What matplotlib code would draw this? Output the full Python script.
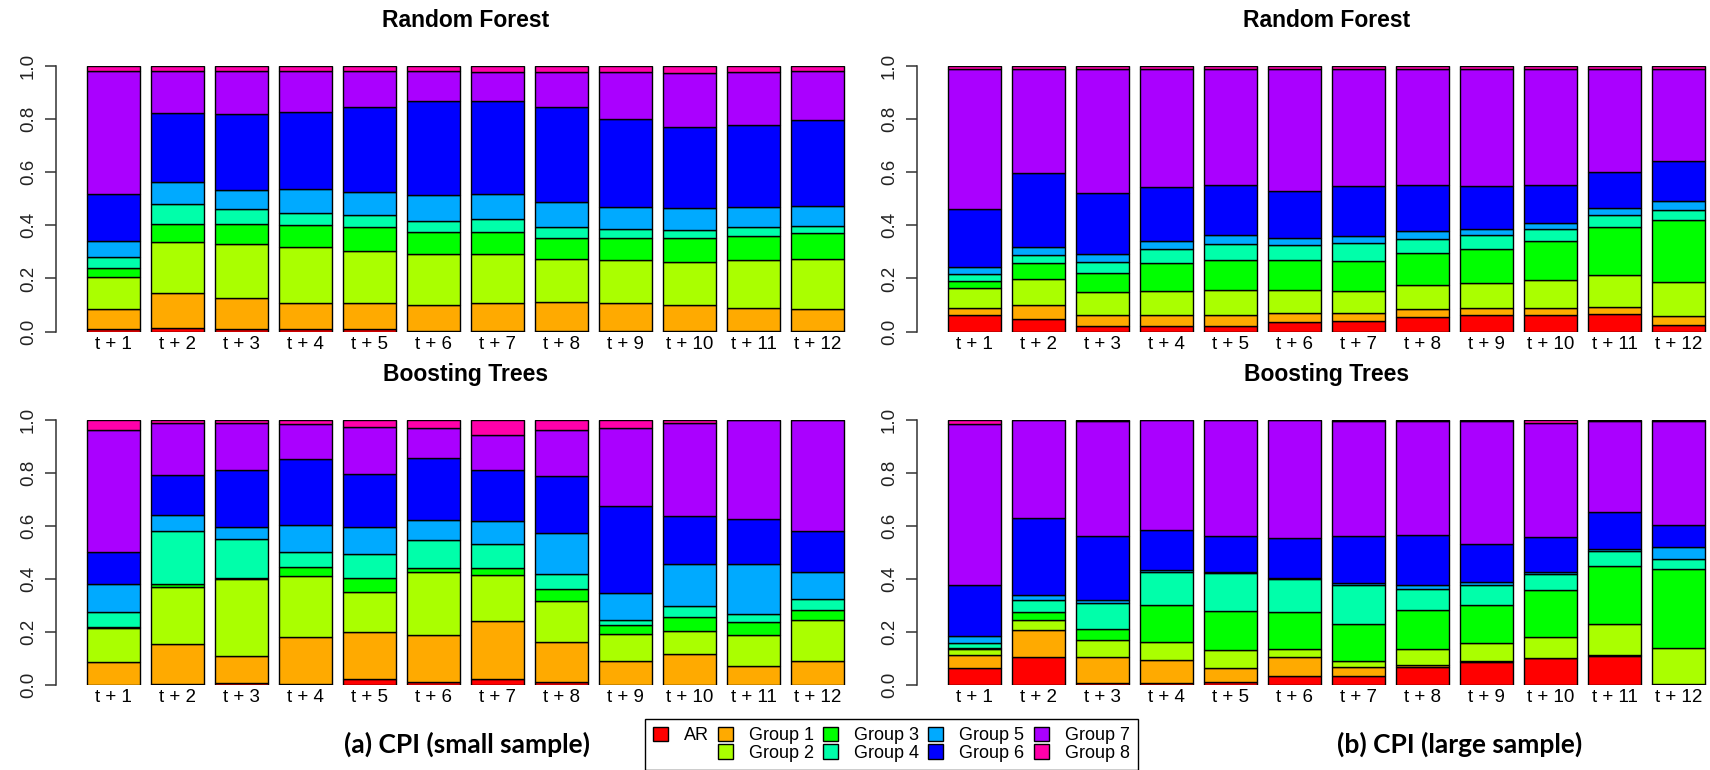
import matplotlib.pyplot as plt
from matplotlib.patches import Patch
import numpy as np

plt.rcParams['font.family'] = ['Liberation Sans Narrow', 'Liberation Sans', 'DejaVu Sans']

horizons = ['t + 1', 't + 2', 't + 3', 't + 4', 't + 5', 't + 6',
            't + 7', 't + 8', 't + 9', 't + 10', 't + 11', 't + 12']
groups = ['AR', 'Group 1', 'Group 2', 'Group 3', 'Group 4',
          'Group 5', 'Group 6', 'Group 7', 'Group 8']
colors = ['#FF0000', '#FFAA00', '#AAFF00', '#00FF00', '#00FFAA',
          '#00AAFF', '#0000FF', '#AA00FF', '#FF00AA']

# share of each group per horizon (rows: t+1..t+12, cols: AR, Group 1..8)
rf_small = [
    [.009, .076, .122, .031, .044, .060, .177, .460, .021],
    [.015, .129, .193, .069, .073, .084, .260, .156, .021],
    [.009, .118, .201, .077, .055, .071, .286, .162, .021],
    [.009, .099, .212, .082, .044, .092, .288, .153, .021],
    [.009, .099, .194, .090, .045, .089, .319, .134, .021],
    [.003, .096, .193, .081, .044, .098, .352, .112, .021],
    [.002, .105, .185, .083, .049, .094, .349, .108, .025],
    [.002, .110, .162, .078, .043, .091, .359, .130, .025],
    [.002, .105, .162, .083, .034, .084, .330, .175, .025],
    [.002, .100, .160, .090, .030, .082, .304, .203, .029],
    [.002, .088, .179, .091, .032, .078, .307, .198, .025],
    [.002, .084, .188, .096, .027, .077, .320, .187, .019],
]

rf_large = [
    [.063, .027, .073, .027, .027, .027, .216, .527, .013],
    [.049, .050, .100, .058, .031, .032, .275, .392, .013],
    [.021, .040, .087, .071, .042, .030, .232, .464, .013],
    [.021, .040, .092, .104, .054, .031, .201, .444, .013],
    [.021, .040, .097, .111, .061, .032, .188, .437, .013],
    [.035, .036, .087, .111, .056, .027, .176, .459, .013],
    [.039, .032, .082, .113, .067, .028, .185, .441, .013],
    [.056, .029, .092, .120, .051, .032, .171, .436, .013],
    [.061, .028, .095, .127, .054, .022, .159, .441, .013],
    [.061, .028, .105, .148, .045, .023, .141, .436, .013],
    [.066, .028, .118, .180, .045, .027, .136, .387, .013],
    [.026, .033, .126, .235, .039, .032, .152, .344, .013],
]

bt_small = [
    [.000, .085, .130, .004, .057, .103, .122, .459, .040],
    [.004, .149, .218, .008, .200, .063, .149, .198, .011],
    [.009, .099, .290, .004, .150, .043, .214, .180, .011],
    [.004, .177, .230, .032, .057, .104, .247, .131, .018],
    [.023, .175, .154, .050, .090, .105, .199, .176, .028],
    [.013, .177, .235, .017, .106, .075, .231, .113, .033],
    [.023, .217, .176, .026, .091, .086, .190, .133, .058],
    [.013, .148, .154, .047, .058, .154, .212, .174, .040],
    [.000, .089, .104, .032, .021, .102, .325, .294, .033],
    [.000, .117, .087, .054, .040, .158, .181, .349, .014],
    [.000, .072, .118, .046, .032, .188, .168, .373, .003],
    [.000, .089, .155, .040, .040, .101, .154, .418, .003],
]

bt_large = [
    [.063, .049, .024, .003, .021, .026, .190, .606, .018],
    [.104, .103, .037, .032, .043, .020, .290, .371, .000],
    [.009, .095, .064, .044, .096, .012, .242, .434, .004],
    [.009, .086, .068, .140, .122, .010, .149, .416, .000],
    [.013, .050, .069, .148, .141, .004, .137, .438, .000],
    [.035, .069, .032, .140, .122, .004, .151, .447, .000],
    [.035, .032, .023, .139, .147, .007, .177, .436, .004],
    [.067, .008, .061, .148, .078, .015, .188, .431, .004],
    [.088, .002, .067, .145, .074, .011, .146, .463, .004],
    [.100, .003, .077, .177, .061, .008, .131, .430, .013],
    [.109, .003, .117, .218, .058, .009, .137, .345, .004],
    [.002, .002, .135, .298, .039, .044, .082, .394, .004],
]


def stacked(ax, shares, title):
    shares = np.array(shares)
    x = 0.7 + 1.2 * np.arange(len(horizons))
    bottom = np.zeros(len(horizons))
    for k in range(len(groups)):
        ax.bar(x, shares[:, k], width=1.0, bottom=bottom, color=colors[k],
               edgecolor='black', linewidth=1.0)
        bottom += shares[:, k]
    ax.set_xlim(-0.368, 14.968)
    ax.set_ylim(0, 1)
    ax.set_xticks(x)
    ax.set_xticklabels(horizons)
    ax.set_yticks([0, 0.2, 0.4, 0.6, 0.8, 1.0])
    ax.set_yticklabels(['0.0', '0.2', '0.4', '0.6', '0.8', '1.0'],
                       rotation=90, va='center')
    ax.tick_params(axis='x', length=0, pad=3, labelsize=13.5)
    ax.tick_params(axis='y', length=8, width=1.1, pad=6, labelsize=13.5,
                   color='#333333', labelcolor='#222222')
    for side in ['top', 'right', 'bottom']:
        ax.spines[side].set_visible(False)
    ax.spines['left'].set_bounds(0, 1)
    ax.spines['left'].set_color('#333333')
    ax.spines['left'].set_linewidth(1.1)
    ax.set_title(title, fontsize=16.5, fontweight='bold', pad=28)


fig = plt.figure(figsize=(17.1, 7.7), dpi=100)
ax_tl = fig.add_axes([0.03298, 0.5693, 0.47848, 0.3455])
ax_tr = fig.add_axes([0.5365, 0.5693, 0.47848, 0.3455])
ax_bl = fig.add_axes([0.03298, 0.1104, 0.47848, 0.3446])
ax_br = fig.add_axes([0.5365, 0.1104, 0.47848, 0.3446])

stacked(ax_tl, rf_small, 'Random Forest')
stacked(ax_tr, rf_large, 'Random Forest')
stacked(ax_bl, bt_small, 'Boosting Trees')
stacked(ax_br, bt_large, 'Boosting Trees')

# legend laid out column by column, with an empty slot under AR
handles = [Patch(facecolor=colors[0], edgecolor='black', linewidth=1.0),
           Patch(facecolor='none', edgecolor='none')]
labels = [groups[0], '']
for k in range(1, len(groups)):
    handles.append(Patch(facecolor=colors[k], edgecolor='black', linewidth=1.0))
    labels.append(groups[k])

leg = fig.legend(handles, labels, ncol=5, loc='upper left',
                 bbox_to_anchor=(645 / 1710, 1 - 719 / 770),
                 borderaxespad=0, frameon=True, fancybox=False,
                 edgecolor='black', framealpha=1, fontsize=13,
                 handlelength=0.83, handleheight=0.83, handletextpad=0.89,
                 columnspacing=0.5, labelspacing=0.0, borderpad=0.45)
leg.get_frame().set_linewidth(1.0)

fig.text(467 / 1710, 1 - 744 / 770, '(a) CPI (small sample)', ha='center',
         va='center', fontsize=19, fontweight='bold', family=['Lato', 'DejaVu Sans'])
fig.text(1460 / 1710, 1 - 744 / 770, '(b) CPI (large sample)', ha='center',
         va='center', fontsize=19, fontweight='bold', family=['Lato', 'DejaVu Sans'])

fig.savefig('out.png', dpi=100)
